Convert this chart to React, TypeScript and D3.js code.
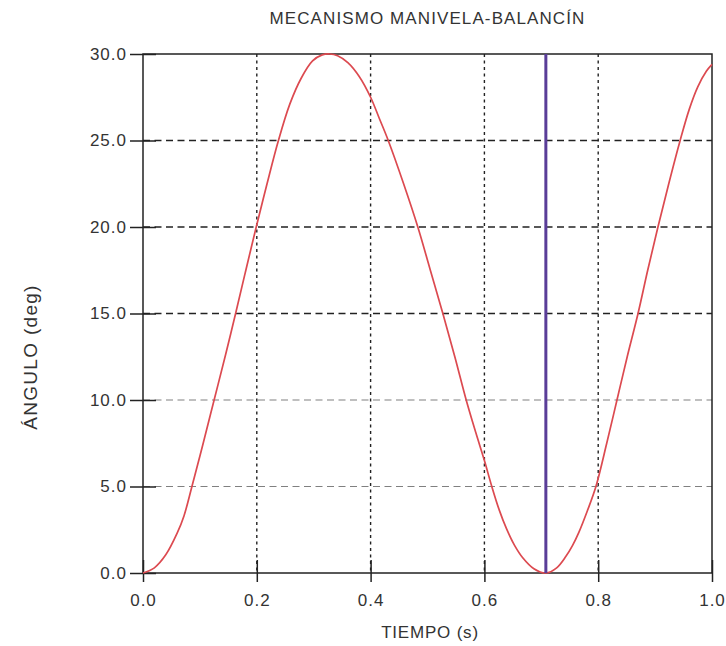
import { useEffect, useRef } from "react";
import * as d3 from "d3";

const tiempo = [
  0.0, 0.02, 0.04, 0.06, 0.072, 0.086, 0.105, 0.125, 0.145, 0.162, 0.18, 0.199, 0.218, 0.238,
  0.258, 0.278, 0.298, 0.315, 0.328, 0.342, 0.36, 0.38, 0.4, 0.415, 0.431, 0.458, 0.483, 0.505,
  0.527, 0.548, 0.568, 0.585, 0.6, 0.613, 0.626, 0.639, 0.653, 0.667, 0.687, 0.708, 0.727, 0.743,
  0.755, 0.766, 0.781, 0.796, 0.815, 0.833, 0.851, 0.87, 0.887, 0.905, 0.924, 0.944, 0.96, 0.975,
  0.99, 1.0,
];
const angulo = [
  0, 0.3, 1.05, 2.3, 3.3, 5, 7.4, 10, 12.6, 14.9, 17.4, 20, 22.5, 25,
  27.1, 28.6, 29.6, 29.95, 30, 29.9, 29.5, 28.7, 27.5, 26.3, 25, 22.5, 20, 17.5,
  15, 12.5, 10, 8.1, 6.5, 5, 3.65, 2.55, 1.6, 0.9, 0.25, 0, 0.3, 0.95,
  1.6, 2.35, 3.6, 5, 7.5, 10, 12.5, 15, 17.5, 20, 22.5, 25, 26.8, 28.1,
  29.0, 29.4,
];
const xTicks = [0, 0.2, 0.4, 0.6, 0.8, 1.0];
const yTicks = [0, 5, 10, 15, 20, 25, 30];
const cursorT = 0.708;

const title = "MECANISMO MANIVELA-BALANCÍN";
const xLabel = "TIEMPO (s)";
const yLabel = "ÁNGULO (deg)";

export default function App() {
  const ref = useRef<SVGSVGElement>(null);

  useEffect(() => {
    const width = 726;
    const height = 646;
    const margin = { top: 54, right: 14, bottom: 73, left: 143 };
    const font = "Liberation Sans, Arial, sans-serif";

    const svg = d3.select(ref.current);
    svg.selectAll("*").remove();

    const x = d3.scaleLinear().domain([0, 1]).range([margin.left, width - margin.right]);
    const y = d3.scaleLinear().domain([0, 30]).range([height - margin.bottom, margin.top]);

    svg.append("rect").attr("width", width).attr("height", height).attr("fill", "#fff");

    // grid
    const grid = svg.append("g");
    grid
      .selectAll("line.v")
      .data(xTicks.filter((d) => d > 0 && d < 1))
      .join("line")
      .attr("x1", (d) => x(d))
      .attr("x2", (d) => x(d))
      .attr("y1", y(30))
      .attr("y2", y(0))
      .attr("stroke", "#222")
      .attr("stroke-width", 1.4)
      .attr("stroke-dasharray", "3,3.5");
    grid
      .selectAll("line.h")
      .data(yTicks.filter((d) => d > 0 && d < 30))
      .join("line")
      .attr("x1", x(0))
      .attr("x2", x(1))
      .attr("y1", (d) => y(d))
      .attr("y2", (d) => y(d))
      .attr("stroke", (d) => (d <= 10 ? "#808080" : "#222"))
      .attr("stroke-width", (d) => (d <= 10 ? 1.1 : 1.5))
      .attr("stroke-dasharray", "7,4.5");

    // frame
    svg
      .append("rect")
      .attr("x", x(0))
      .attr("y", y(30))
      .attr("width", x(1) - x(0))
      .attr("height", y(0) - y(30))
      .attr("fill", "none")
      .attr("stroke", "#222")
      .attr("stroke-width", 1.5);

    // axes
    const yAxis = svg
      .append("g")
      .attr("transform", `translate(${x(0)},0)`)
      .call(d3.axisLeft(y).tickValues(yTicks).tickFormat(d3.format(".1f")).tickSize(13).tickPadding(3));
    const xAxis = svg
      .append("g")
      .attr("transform", `translate(0,${y(0)})`)
      .call(d3.axisBottom(x).tickValues(xTicks).tickFormat(d3.format(".1f")).tickSize(9).tickPadding(12));
    [xAxis, yAxis].forEach((g) => {
      g.select(".domain").remove();
      g.selectAll("line").attr("stroke", "#222").attr("stroke-width", 1.5);
      g.selectAll("text")
        .attr("fill", "#333")
        .style("font-family", font)
        .style("font-size", "17px")
        .style("letter-spacing", "1px");
    });
    xAxis.selectAll("line").attr("y1", -13);
    yAxis.selectAll("line").attr("x1", 13);

    // curve
    const pts = tiempo.map((t, i) => [t, angulo[i]] as [number, number]);
    const line = d3
      .line<[number, number]>()
      .x((d) => x(d[0]))
      .y((d) => y(d[1]))
      .curve(d3.curveCatmullRom.alpha(0.5));
    svg
      .append("path")
      .datum(pts)
      .attr("fill", "none")
      .attr("stroke", "#dc4a50")
      .attr("stroke-width", 1.7)
      .attr("d", line);

    // cursor
    svg
      .append("line")
      .attr("x1", x(cursorT))
      .attr("x2", x(cursorT))
      .attr("y1", y(30))
      .attr("y2", y(0))
      .attr("stroke", "#5a3d98")
      .attr("stroke-width", 3);

    // labels
    svg
      .append("text")
      .attr("x", (x(0) + x(1)) / 2)
      .attr("y", 24)
      .attr("text-anchor", "middle")
      .attr("fill", "#333")
      .style("font-family", font)
      .style("font-size", "17px")
      .style("letter-spacing", "1.1px")
      .text(title);
    svg
      .append("text")
      .attr("x", 430)
      .attr("y", 638)
      .attr("text-anchor", "middle")
      .attr("fill", "#333")
      .style("font-family", font)
      .style("font-size", "17px")
      .style("letter-spacing", "0.8px")
      .text(xLabel);
    svg
      .append("text")
      .attr("transform", `translate(37,357) rotate(-90)`)
      .attr("text-anchor", "middle")
      .attr("fill", "#333")
      .style("font-family", font)
      .style("font-size", "19px")
      .style("letter-spacing", "1.3px")
      .text(yLabel);
  }, []);

  return (
    <svg
      ref={ref}
      width={726}
      height={646}
      style={{ position: "absolute", left: 0, top: 0 }}
    />
  );
}
